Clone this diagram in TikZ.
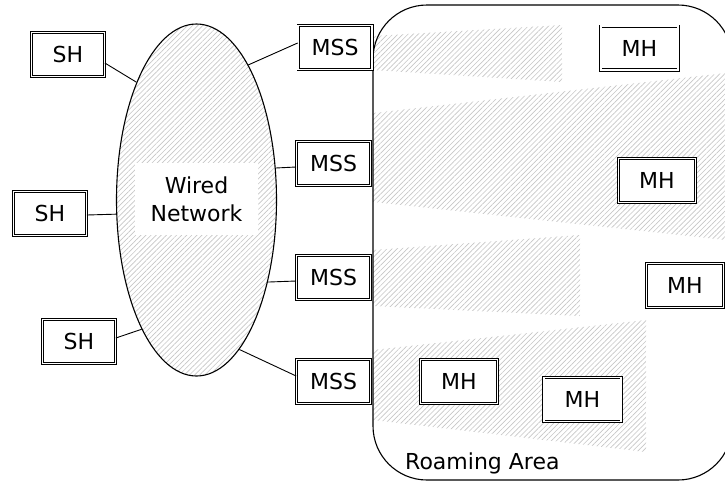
\documentclass[tikz,border=0pt]{standalone}
\usepackage{fontspec}
\setmainfont{DejaVu Sans}
\usetikzlibrary{shapes.geometric,patterns.meta}
\tikzset{
  hatch/.style={pattern={Lines[angle=45,distance=3.6pt,line width=0.65pt]},pattern color=gray!45},
  dbox/.style={draw=black,line width=0.9pt,double=white,double distance=1.4pt,fill=white,
    inner sep=0pt,minimum height=43.8pt,font=\fontsize{22}{26}\selectfont},
  shbox/.style={dbox,minimum width=72.8pt},
  mssbox/.style={dbox,minimum width=73.8pt},
  mhbox/.style={dbox,minimum width=77.3pt},
  wire/.style={draw=black,line width=0.9pt},
}
\begin{document}
\begin{tikzpicture}[x=1pt,y=-1pt]
\useasboundingbox (0,0) rectangle (725,483);
% radio cells
\fill[hatch] (373,36) -- (562,25) -- (562,82) -- (373,70) -- cycle;
\fill[hatch] (373,113) -- (726,73) -- (726,240) -- (373,202) -- cycle;
\fill[hatch] (373,250) -- (580,235) -- (580,316) -- (373,306) -- cycle;
\fill[hatch] (373,350) -- (646,320) -- (646,452) -- (373,420) -- cycle;
% roaming area (right side lies beyond the picture edge)
\draw[line width=1.1pt,rounded corners=54pt] (732,70) -- (732,5) -- (373,5) -- (373,480) -- (732,480) -- (732,415);
\node[anchor=base west,font=\fontsize{22}{26}\selectfont,inner sep=0pt] (roam) at (405,469) {Roaming Area};
% wired network
\node[ellipse,draw=black,line width=1.1pt,hatch,minimum width=160pt,minimum height=352pt,inner sep=0pt] (net) at (196.5,200) {};
\node[fill=white,minimum width=123pt,minimum height=72pt,inner sep=0pt,align=center,
  font=\fontsize{22}{28}\selectfont] (wlabel) at (196.5,199) {Wired\\Network};
% hosts
\node[shbox] (sh1) at (68,54.5) {SH};
\node[shbox] (sh2) at (50,213.5) {SH};
\node[shbox] (sh3) at (79,341.5) {SH};
\node[mssbox] (mss1) at (335,47.5) {MSS};
\node[mssbox] (mss2) at (333.5,163.5) {MSS};
\node[mssbox] (mss3) at (333.5,277.5) {MSS};
\node[mssbox] (mss4) at (333.5,381.5) {MSS};
\node[mhbox] (mh1) at (639.5,48) {MH};
\node[mhbox] (mh2) at (657,180.5) {MH};
\node[mhbox] (mh3) at (685,285.5) {MH};
\node[mhbox] (mh4) at (459,381.5) {MH};
\node[mhbox] (mh5) at (582.5,399.5) {MH};
% connectors
\draw[wire] ([yshift=-8.5pt]sh1.east) -- (net.117.3);
\draw[wire] ([yshift=-1.5pt]sh2.east) -- (net.190.7);
\draw[wire] ([yshift=3.5pt]sh3.east) -- (net.247.6);
\draw[wire] (net.69) -- ([yshift=4.5pt]mss1.west);
\draw[wire] (net.22.5) -- ([yshift=-3.5pt]mss2.west);
\draw[wire] (net.311.4) -- ([yshift=-3.5pt]mss3.west);
\draw[wire] (net.286.4) -- ([yshift=5.5pt]mss4.west);
\end{tikzpicture}
\end{document}
